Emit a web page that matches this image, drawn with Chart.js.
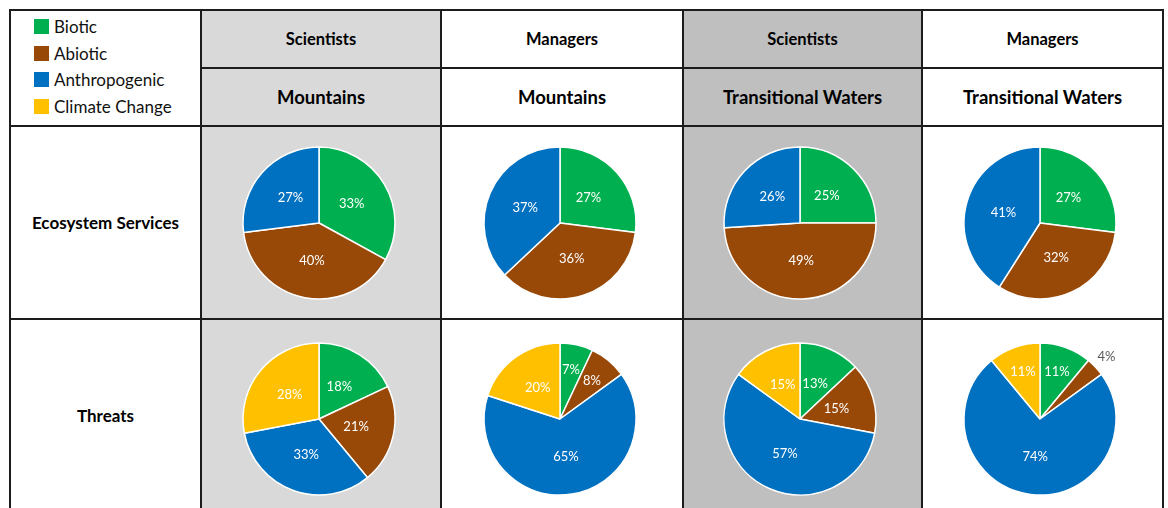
<!DOCTYPE html>
<html>
<head>
<meta charset="utf-8">
<script src="https://cdn.jsdelivr.net/npm/chart.js@4.4.1/dist/chart.umd.min.js"></script>
<style>
  body { margin: 0; background: #fff; font-family: Lato, "Open Sans", sans-serif; }
  #board { position: relative; width: 1168px; height: 508px; overflow: hidden; }
  .cell { position: absolute; display: flex; align-items: center; justify-content: center; font-weight: bold; color: #000; }
  .hline, .vline { position: absolute; background: #1c1c1c; }
  .legend { position: absolute; left: 34px; top: 19px; font-size: 17px; color: #111; }
  .legend div { height: 26.5px; display: flex; align-items: flex-start; }
  .legend span.sw { display: inline-block; width: 15px; height: 15px; margin-right: 5px; }
  .legend span.tx { line-height: 15px; margin-top: 0px; }
  canvas { position: absolute; }
</style>
</head>
<body>
<div id="board"></div>
<script>
// categories and colours
const categories = ["Biotic", "Abiotic", "Anthropogenic", "Climate Change"];
const colors = ["#00B050", "#984807", "#0070C0", "#FFC000"];

// column headers
const groups = ["Scientists", "Managers", "Scientists", "Managers"];
const areas = ["Mountains", "Mountains", "Transitional Waters", "Transitional Waters"];
const rowLabels = ["Ecosystem Services", "Threats"];

// percentages, one array per pie (Biotic, Abiotic, Anthropogenic, Climate Change)
const esSciMountains = [33, 40, 27];
const esManMountains = [27, 36, 37];
const esSciTransitional = [25, 49, 26];
const esManTransitional = [27, 32, 41];
const thSciMountains = [18, 21, 33, 28];
const thManMountains = [7, 8, 65, 20];
const thSciTransitional = [13, 15, 57, 15];
const thManTransitional = [11, 4, 74, 11];

const rows = [
  [esSciMountains, esManMountains, esSciTransitional, esManTransitional],
  [thSciMountains, thManMountains, thSciTransitional, thManTransitional],
];

// table geometry
const colX = [10, 201, 441, 683, 922, 1163];
const rowY = [10, 68, 126, 319, 560];
const colFill = ["#fff", "#D9D9D9", "#fff", "#BFBFBF", "#fff"];
const pieY = [223, 419];
const labelY = [222, 415];

const board = document.getElementById("board");

// backgrounds
for (let c = 0; c < 5; c++) {
  const bg = document.createElement("div");
  bg.style.cssText = `position:absolute;left:${colX[c]}px;top:${rowY[0]}px;width:${colX[c + 1] - colX[c]}px;height:${rowY[4] - rowY[0]}px;background:${colFill[c]}`;
  board.appendChild(bg);
}

// header text
for (let i = 0; i < 4; i++) {
  const g = document.createElement("div");
  g.className = "cell";
  g.style.cssText += `left:${colX[i + 1]}px;top:${rowY[0]}px;width:${colX[i + 2] - colX[i + 1]}px;height:${rowY[1] - rowY[0]}px;font-size:16.5px`;
  g.textContent = groups[i];
  board.appendChild(g);

  const a = document.createElement("div");
  a.className = "cell";
  a.style.cssText += `left:${colX[i + 1]}px;top:${rowY[1]}px;width:${colX[i + 2] - colX[i + 1]}px;height:${rowY[2] - rowY[1]}px;font-size:18.5px`;
  a.textContent = areas[i];
  board.appendChild(a);
}

// row labels
rowLabels.forEach((txt, r) => {
  const d = document.createElement("div");
  d.className = "cell";
  d.style.cssText += `left:${colX[0]}px;top:${labelY[r] - 20}px;width:${colX[1] - colX[0]}px;height:40px;font-size:17px`;
  d.textContent = txt;
  board.appendChild(d);
});

// grid lines
[0, 1, 2, 3].forEach((r) => {
  const h = document.createElement("div");
  h.className = "hline";
  const x0 = r === 1 ? colX[1] : colX[0];
  h.style.cssText += `left:${x0}px;top:${rowY[r] - 1}px;width:${colX[5] - x0 + 1}px;height:${r === 2 ? 2 : 1.5}px`;
  board.appendChild(h);
});
colX.forEach((x) => {
  const v = document.createElement("div");
  v.className = "vline";
  v.style.cssText += `left:${x - 1}px;top:${rowY[0] - 1}px;width:1.5px;height:${rowY[4]}px`;
  board.appendChild(v);
});

// legend
const legend = document.createElement("div");
legend.className = "legend";
categories.forEach((name, i) => {
  const item = document.createElement("div");
  item.innerHTML = `<span class="sw" style="background:${colors[i]}"></span><span class="tx">${name}</span>`;
  legend.appendChild(item);
});
board.appendChild(legend);

// percent labels drawn on the slices
const sliceLabels = {
  id: "sliceLabels",
  afterDatasetsDraw(chart) {
    const ctx = chart.ctx;
    const meta = chart.getDatasetMeta(0);
    const values = chart.data.datasets[0].data;
    ctx.save();
    ctx.font = "13px Lato, 'Open Sans', sans-serif";
    ctx.textAlign = "center";
    ctx.textBaseline = "middle";
    meta.data.forEach((arc, i) => {
      const v = values[i];
      const p = arc.getProps(["x", "y", "startAngle", "endAngle", "outerRadius"], true);
      const mid = (p.startAngle + p.endAngle) / 2;
      let k = 0.5;
      let color = "#fff";
      if (v < 5) {
        k = 1.2;
        color = "#595959";
      } else if (v < 12) {
        k = 0.66;
      }
      const r = p.outerRadius * k;
      ctx.fillStyle = color;
      ctx.fillText(v + "%", p.x + Math.cos(mid) * r, p.y + Math.sin(mid) * r);
    });
    ctx.restore();
  },
};

rows.forEach((row, r) => {
  row.forEach((values, c) => {
    const cv = document.createElement("canvas");
    cv.width = 230;
    cv.height = 190;
    const cx = Math.floor((colX[c + 1] + colX[c + 2]) / 2) - 2;
    cv.style.left = cx - 115 + "px";
    cv.style.top = pieY[r] - 95 + "px";
    board.appendChild(cv);

    new Chart(cv.getContext("2d"), {
      type: "pie",
      data: {
        labels: categories.slice(0, values.length),
        datasets: [
          {
            data: values,
            backgroundColor: colors.slice(0, values.length),
            borderColor: "#fff",
            borderWidth: 1.5,
          },
        ],
      },
      options: {
        responsive: false,
        animation: false,
        radius: 76,
        layout: { padding: 0 },
        plugins: {
          legend: { display: false },
          tooltip: { enabled: false },
        },
      },
      plugins: [sliceLabels],
    });
  });
});
</script>
</body>
</html>
